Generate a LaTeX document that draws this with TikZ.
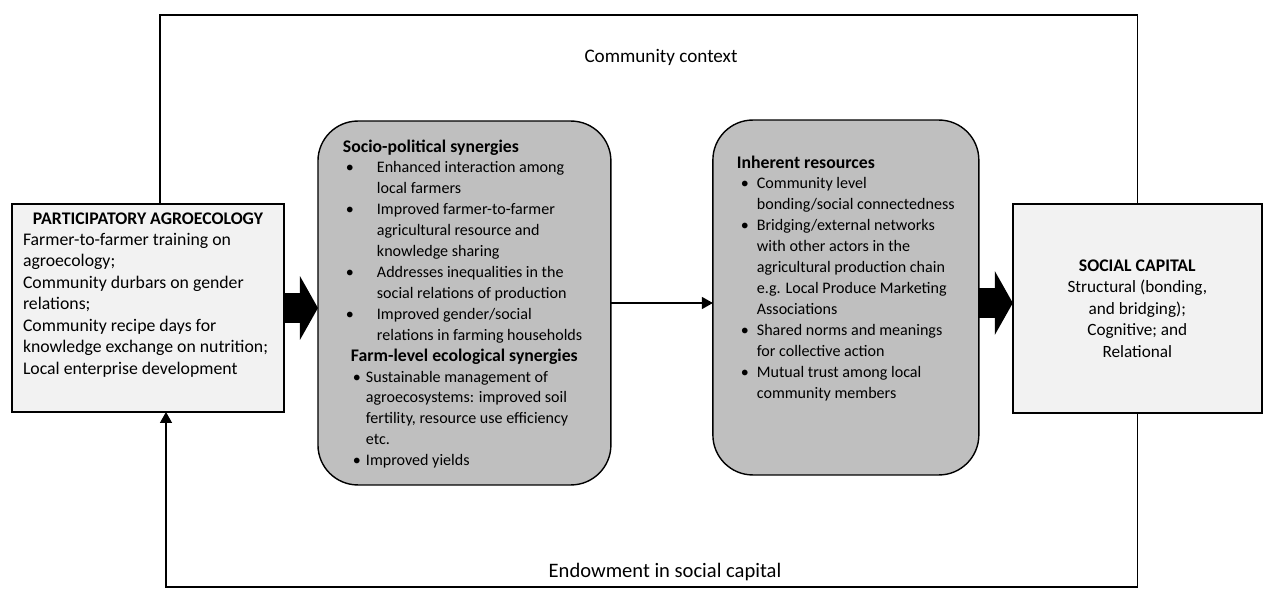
\documentclass[tikz,border=0pt]{standalone}
\usepackage{fontspec}
\setmainfont{Carlito}
\usetikzlibrary{positioning, arrows.meta}

\definecolor{panelgrey}{HTML}{F2F2F2}
\definecolor{synergygrey}{HTML}{BFBFBF}

% text hung from the top of a box: #1 height, #2 width, #3 left pad,
% #4 first baseline below the top edge, #5 contents
\newcommand{\topblock}[5]{%
  \begin{minipage}[c][#1][t]{#2}%
  \leftskip=#3\rightskip=0pt plus 1fil\parindent=0pt
  \vspace*{\dimexpr#4-\ht\strutbox\relax}\strut#5%
  \end{minipage}}
% bullet point: #1 bullet indent, #2 text indent, #3 text
\newcommand{\bitem}[3]{\par\hangindent=#2\hangafter=1\noindent
  \makebox[#2][l]{\hspace*{#1}\textbullet}#3}
% bold headings are set a little larger than the bullets
\newcommand{\heading}[1]{{\fontsize{10.1}{11.9}\selectfont\bfseries #1}}

\begin{document}
\begin{tikzpicture}[x=0.02cm, y=-0.02cm, font=\fontsize{10.1}{12.2}\selectfont,
    flatbox/.style={draw, line width=1.2pt, fill=panelgrey, inner sep=0pt, outer sep=0pt},
    roundbox/.style={draw, line width=0.8pt, fill=synergygrey, rounded corners=0.8cm,
      inner sep=0pt, outer sep=0pt, font=\fontsize{9.15}{11.9}\selectfont},
    link/.style={line width=0.8pt},
    headed/.style={-{Triangle[length=0.22cm, width=0.24cm]}},
    fatarrow/.style={line width=0.6cm, -{Triangle[length=0.36cm, width=1.26cm]}},
    caption/.style={font=\fontsize{#1}{14}\selectfont}]
  \useasboundingbox (0,0) rectangle (1264,597);

  % the four stages
  \node[flatbox] (agro) at (148,308) {\topblock{4.16cm}{5.44cm}{0.22cm}{0.4cm}{%
    {\centering\heading{PARTICIPATORY AGROECOLOGY}\par}
    Farmer-to-farmer training on\\ agroecology;\\
    Community durbars on gender\\ relations;\\
    Community recipe days for\\ knowledge exchange on nutrition;\\
    Local enterprise development}};
  \node[roundbox, right=0.68cm of agro, yshift=0.1cm] (syn) {\topblock{7.28cm}{5.86cm}{0.5cm}{0.62cm}{%
    \heading{Socio-political synergies}
    \bitem{0.06cm}{0.68cm}{Enhanced interaction among\\ local farmers}
    \bitem{0.06cm}{0.68cm}{Improved farmer-to-farmer\\ agricultural resource and\\ knowledge sharing}
    \bitem{0.06cm}{0.68cm}{Addresses inequalities in the\\ social relations of production}
    \bitem{0.06cm}{0.68cm}{Improved gender/social\\ relations in farming households}
    \par\hspace*{0.16cm}\heading{Farm-level ecological synergies}
    \bitem{0.2cm}{0.46cm}{Sustainable management of\\ agroecosystems: improved soil\\ fertility, resource use efficiency\\ etc.}
    \bitem{0.2cm}{0.46cm}{Improved yields}}};
  \node[roundbox, right=2.04cm of syn, yshift=0.11cm] (res) {\topblock{7.1cm}{5.32cm}{0.48cm}{0.96cm}{%
    \heading{Inherent resources}
    \bitem{0.08cm}{0.4cm}{Community level\\ bonding/social connectedness}
    \bitem{0.08cm}{0.4cm}{Bridging/external networks\\ with other actors in the\\ agricultural production chain\\ e.g. Local Produce Marketing\\ Associations}
    \bitem{0.08cm}{0.4cm}{Shared norms and meanings\\ for collective action}
    \bitem{0.08cm}{0.4cm}{Mutual trust among local\\ community members}}};
  \node[flatbox, minimum width=4.98cm, minimum height=4.18cm, align=center,
    font=\fontsize{9.8}{12.2}\selectfont, right=0.68cm of res, yshift=-0.22cm] (soc)
    {\heading{SOCIAL CAPITAL}\\ Structural (bonding,\\ and bridging);\\ Cognitive; and\\ Relational};

  % feedback loops round the outside
  \coordinate (ctxline) at (649,15);
  \coordinate (endowline) at (651,587);
  \draw[link] ([xshift=0.24cm]agro.north) |- (ctxline) -| (soc.north);
  \draw[link, headed] (soc.south) |- (endowline) -| ([xshift=0.36cm]agro.south);
  \node[caption=10.9] (ctx) at (661,57) {Community context};
  \node[caption=11.7] (endow) at (665,572) {Endowment in social capital};

  % flow between the stages
  \draw[link, headed] (syn.east) -- (syn.east -| res.west);
  \draw[fatarrow] (agro.east) -- (agro.east -| syn.west);
  \draw[fatarrow] (res.east |- syn.east) -- (soc.west |- syn.east);
\end{tikzpicture}
\end{document}
